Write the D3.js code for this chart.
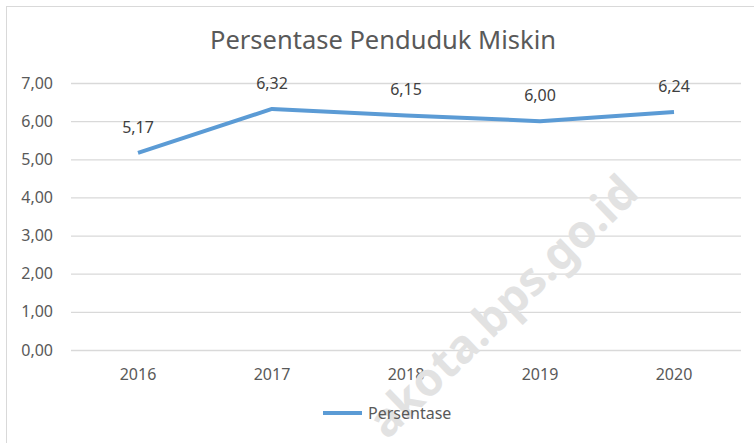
<!DOCTYPE html>
<html>
<head>
<meta charset="utf-8">
<script src="https://cdn.jsdelivr.net/npm/d3@7"></script>
<style>
  body { margin: 0; background: #fff; }
  text { font-family: "Noto Sans", sans-serif; }
</style>
</head>
<body>
<div id="chart"></div>
<script>
const years = ['2016', '2017', '2018', '2019', '2020']
const persentase = [5.17, 6.32, 6.15, 6.00, 6.24]
const yTicks = [0, 1, 2, 3, 4, 5, 6, 7]

const width = 754
const height = 443
const margin = { top: 83, right: 13, bottom: 93, left: 71 }

const svg = d3.select('#chart').append('svg')
    .attr('width', width)
    .attr('height', height)

// chart area border (right/bottom fall outside the crop)
svg.append('rect')
    .attr('x', 6.5).attr('y', 6.5)
    .attr('width', 780).attr('height', 480)
    .attr('fill', '#fff')
    .attr('stroke', '#d9d9d9')

const x = d3.scaleBand()
    .domain(years)
    .range([margin.left, width - margin.right])

const y = d3.scaleLinear()
    .domain([0, 7])
    .range([height - margin.bottom, margin.top])

const fmt = v => d3.format('.2f')(v).replace('.', ',')

// gridlines + y labels
const yAxis = d3.axisLeft(y)
    .tickValues(yTicks)
    .tickSize(-(width - margin.left - margin.right))
    .tickPadding(18)
    .tickFormat(fmt)

svg.append('g')
    .attr('transform', `translate(${margin.left},0)`)
    .call(yAxis)
    .call(g => g.select('.domain').remove())
    .call(g => g.selectAll('line').attr('stroke', '#d9d9d9').attr('stroke-width', 1.3))
    .call(g => g.selectAll('text').attr('fill', '#595959').attr('font-size', 16))

// x labels
const xAxis = d3.axisBottom(x).tickSize(0).tickPadding(19)
svg.append('g')
    .attr('transform', `translate(0,${height - margin.bottom})`)
    .call(xAxis)
    .call(g => g.select('.domain').remove())
    .call(g => g.selectAll('text').attr('fill', '#595959').attr('font-size', 16))

// watermark
svg.append('text')
    .attr('transform', 'translate(514,318) rotate(-44)')
    .attr('text-anchor', 'middle')
    .attr('font-family', '"Liberation Sans", Arial, sans-serif')
    .attr('font-weight', 'bold')
    .attr('font-size', 46)
    .attr('fill', '#e2e2e2')
    .text('akota.bps.go.id')

// line
const line = d3.line()
    .x((d, i) => x(years[i]) + x.bandwidth() / 2)
    .y(d => y(d))

svg.append('path')
    .datum(persentase)
    .attr('d', line)
    .attr('fill', 'none')
    .attr('stroke', '#5b9bd5')
    .attr('stroke-width', 4)
    .attr('stroke-linejoin', 'round')

// data labels
svg.selectAll('.dlabel')
    .data(persentase)
    .join('text')
    .attr('class', 'dlabel')
    .attr('x', (d, i) => x(years[i]) + x.bandwidth() / 2)
    .attr('y', d => y(d) - 20)
    .attr('text-anchor', 'middle')
    .attr('font-size', 16)
    .attr('fill', '#404040')
    .text(fmt)

// title
svg.append('text')
    .attr('x', 383)
    .attr('y', 49)
    .attr('text-anchor', 'middle')
    .attr('font-size', 25.5)
    .attr('fill', '#595959')
    .text('Persentase Penduduk Miskin')

// legend
const legend = svg.append('g').attr('transform', 'translate(323,413)')
legend.append('line')
    .attr('x1', 0).attr('x2', 39)
    .attr('stroke', '#5b9bd5')
    .attr('stroke-width', 4)
legend.append('text')
    .attr('x', 45).attr('y', 6)
    .attr('font-size', 16)
    .attr('fill', '#595959')
    .text('Persentase')
</script>
</body>
</html>
